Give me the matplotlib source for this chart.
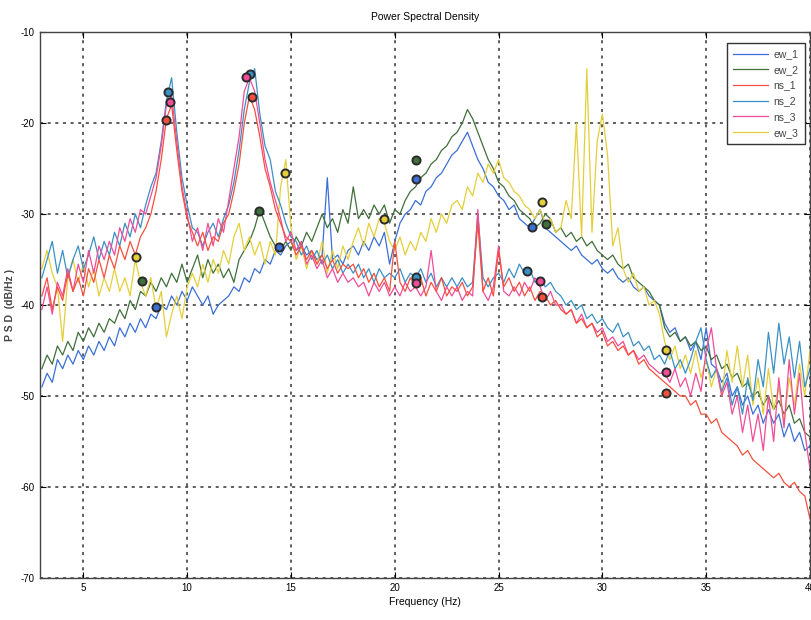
import numpy as np
import matplotlib
matplotlib.use("Agg")
import matplotlib.pyplot as plt

plt.rcParams['font.family'] = ['Liberation Sans Narrow', 'Liberation Sans', 'DejaVu Sans']
plt.rcParams['axes.unicode_minus'] = False

# frequency axis, 0.25 Hz steps from 3 to 40 Hz
freq = np.arange(3.0, 40.001, 0.25)

ew_1 = [
    -49, -47.5, -48.5, -46, -47, -45.5, -46.5, -45, -46, -44.5, -45.5, -44, -45, -43.5, -44.5, -42.5, -43.5, -42, -43, -41.5,
    -42.5, -41, -41.5, -40, -40.5, -39, -40, -38.5, -39.5, -38, -39, -40, -39, -41, -40, -39.5, -39, -38, -38.5, -37,
    -37.5, -36, -36.5, -35, -35.5, -34, -34.5, -33.5, -33, -34, -33.5, -34.5, -34, -35, -34.5, -26, -35, -34.5, -35.5, -34,
    -33.5, -34.5, -33, -34, -32.5, -33.5, -32, -35.5, -33, -31, -30, -29.5, -28.5, -29, -27.5, -27, -26, -25.5, -24.5, -23.5,
    -23, -22, -21, -22.5, -24, -25, -26.5, -27, -28, -28.5, -29.5, -29, -30.5, -31, -31.5, -30.5, -29.5, -31.5, -32, -32.5,
    -33, -33.5, -34, -33.5, -34.5, -35, -35.5, -35, -36, -36.5, -36, -37, -37.5, -37, -38, -38.5, -38, -39, -39.5, -40,
    -42, -43, -42.5, -44, -43.5, -45, -44, -46, -42.5, -46.5, -47, -48.5, -47.5, -50, -49, -51, -50, -52, -51, -53,
    -51.5, -53, -52, -54.5, -53, -55, -54, -56, -55.5,
]

ew_2 = [
    -47, -45.5, -46.5, -44.5, -45.5, -44, -45, -43, -44, -42.5, -43.5, -42, -43, -41.5, -42, -40.5, -41.5, -39.5, -40.5, -38.5,
    -39, -37.5, -38.5, -37, -38, -36.5, -37.5, -35.5, -37.5, -36, -34.5, -37, -35, -36.5, -35.5, -37, -36, -37.5, -35, -34,
    -33, -31.5, -29.5, -31, -32.5, -33.5, -34, -33, -34, -32.5, -33.5, -32, -33, -31.5, -30, -31.5, -30.5, -32, -29.5, -31,
    -27, -30.5, -29.5, -30.5, -29, -30, -29, -31, -29.5, -30, -28.5, -27.5, -27, -26, -25.5, -24.5, -24, -23, -22.5, -21.5,
    -21, -20, -18.5, -19.5, -21, -22.5, -24, -25, -26.5, -27, -28, -28.5, -29.5, -30, -30.5, -31.5, -31, -30, -30.5, -32,
    -31.5, -32.5, -32, -33, -32.5, -33.5, -33, -34, -34.5, -35, -34.5, -35.5, -36, -35.5, -37, -37.5, -38, -38.5, -39.5, -40,
    -42.5, -43.5, -43, -44, -43.5, -44.5, -44, -45, -44.5, -46, -45.5, -47, -46.5, -48, -47.5, -49, -48.5, -50, -49.5, -51,
    -50, -51.5, -50.5, -52, -51, -53, -52.5, -54, -54.5,
]

ns_1 = [
    -39, -37, -40.5, -38, -39.5, -36.5, -38.5, -37, -39, -36, -37.5, -35, -37, -34.5, -36, -33.5, -35, -33, -34.5, -32.5,
    -31.5, -30, -27.5, -24, -19.5, -18, -23, -27.5, -30.5, -32, -33.5, -32, -34, -32.5, -33, -31, -30, -27.5, -24.5, -20,
    -17, -18.5, -21.5, -25, -27, -29.5, -31, -32.5, -33, -34.5, -33.5, -35, -34, -35.5, -34.5, -36, -35, -36.5, -35.5, -36,
    -35.5, -37, -36, -37.5, -36.5, -38, -37, -38.5, -33, -37.5, -38.5, -37, -38, -37, -39, -37.5, -38.5, -37, -39, -38,
    -38.5, -37.5, -39, -38, -31, -38.5, -37, -39, -34, -38, -37, -38.5, -37.5, -39, -38, -39.5, -38.5, -39, -40, -39.5,
    -40.5, -41, -40.5, -42, -41.5, -42.5, -42, -43.5, -43, -44.5, -44, -45, -44.5, -45.5, -45, -46.5, -46, -47, -47.5, -48,
    -48.5, -49, -49.5, -50, -50, -51, -50.5, -52, -52, -53, -52.5, -54, -54.5, -55, -55.5, -56.5, -56, -57, -57.5, -58,
    -58.5, -59, -58.5, -59.5, -60, -59.5, -60.5, -61, -63.5,
]

ns_2 = [
    -37, -35, -33, -36.5, -34, -37, -35, -33.5, -36, -34.5, -32.5, -35, -33, -34.5, -32, -33.5, -31, -32.5, -30, -31.5,
    -29, -27, -25.5, -22, -17.5, -15, -21, -26, -29, -31.5, -32, -33.5, -32, -31, -32.5, -30.5, -29, -26.5, -23, -18.5,
    -15.5, -14, -19, -22.5, -24, -27.5, -29, -31, -32.5, -33, -34.5, -33.5, -35, -34, -35.5, -34.5, -36, -35, -36.5, -35.5,
    -36.5, -35.5, -37, -36, -37.5, -36, -37, -36.5, -37, -36, -37.5, -36.5, -37, -36, -37.5, -36.5, -38, -37, -38, -37,
    -38, -37, -38, -37.5, -30, -37, -38, -37, -36.5, -37.5, -36, -37, -35.5, -36.5, -36, -37.5, -37, -38, -37.5, -38.5,
    -39, -40, -39.5, -40.5, -40, -41.5, -41, -42, -41.5, -42.5, -43, -42, -43.5, -43, -44.5, -44, -45, -44.5, -46, -45.5,
    -46.5, -45, -47, -46, -47.5, -46, -44, -42.5, -46, -48, -47, -49.5, -48, -51, -49, -52, -48, -50.5, -46, -49,
    -43, -47.5, -42, -46.5, -43.5, -48, -44, -49, -47,
]

ns_3 = [
    -40.5, -38, -41, -37.5, -39, -36, -38.5, -35.5, -37.5, -34, -36.5, -33.5, -35, -33, -34.5, -31.5, -33, -30.5, -32, -29.5,
    -30, -28, -26, -22.5, -18, -17, -22, -27, -30, -33, -31.5, -34, -31, -33.5, -30.5, -32, -28.5, -25, -21.5, -16.5,
    -15, -16.5, -20, -24, -26.5, -28.5, -30.5, -33, -32, -34, -33, -35.5, -34.5, -36, -35, -37, -36, -37.5, -36.5, -37.5,
    -37, -38, -37.5, -39, -37.5, -38.5, -37.5, -39, -38, -39, -37.5, -38.5, -38, -39, -38, -34, -38.5, -39.5, -38, -39,
    -38, -39.5, -38.5, -39, -29.5, -38.5, -39.5, -38, -33.5, -38.5, -39, -38, -39, -37.5, -38.5, -37, -38, -39.5, -38.5, -40,
    -40, -41, -40.5, -42, -41, -42.5, -42, -43, -42.5, -44, -43.5, -44.5, -44, -45.5, -45, -46, -45.5, -46.5, -47, -47.5,
    -47.5, -48.5, -47, -49, -48, -50, -47.5, -49.5, -45, -42.5, -47, -50, -48.5, -52, -50, -54, -51, -55, -52, -56,
    -50, -55, -48, -53.5, -46, -52, -47.5, -54, -58,
]

ew_3 = [
    -36, -34, -36.5, -38, -44, -37, -35, -37.5, -35.5, -38, -36, -39, -37, -38.5, -36, -38.5, -37, -39, -35, -37.5,
    -39, -37, -40.5, -38.5, -43.5, -41, -39, -41.5, -38, -36.5, -38, -35.5, -37.5, -35, -36.5, -34, -35.5, -32.5, -31, -34,
    -32.5, -34.5, -33, -35.5, -33, -34.5, -27, -24, -31.5, -35, -33.5, -36, -34, -35.5, -33, -36.5, -34, -36, -33.5, -35,
    -33, -31.5, -33.5, -31, -32.5, -30.5, -31, -33, -34, -32.5, -34.5, -33, -34, -32, -33, -30.5, -32, -30, -31, -29,
    -28.5, -29.5, -27, -28, -25.5, -26.5, -24.5, -25.5, -24, -26, -26.5, -27.5, -28, -29, -29.5, -30.5, -29.5, -31, -30.5, -32,
    -31.5, -28.5, -30.5, -20, -32.5, -14, -32, -22, -19, -23.5, -33.5, -31.5, -36, -37.5, -36.5, -38.5, -38, -40, -39.5, -41,
    -44, -46, -44.5, -47, -45.5, -47.5, -45, -48, -46, -49, -47, -50, -45, -48.5, -44.5, -49, -45.5, -51, -48, -52,
    -47, -51.5, -49, -53, -48, -51, -46.5, -50, -45,
]

# peak markers picked on each curve
mk_freq = {
    'ew_1': [8.5, 14.4, 21.0, 26.6],
    'ew_2': [7.8, 13.45, 21.0, 27.3],
    'ns_1': [9.0, 13.1, 27.1, 33.05],
    'ns_2': [9.1, 13.05, 21.0, 26.35],
    'ns_3': [9.15, 12.85, 21.0, 27.0, 33.05],
    'ew_3': [7.55, 14.7, 19.5, 27.1, 33.05],
}
mk_psd = {
    'ew_1': [-40.2, -33.6, -26.1, -31.4],
    'ew_2': [-37.4, -29.7, -24.0, -31.1],
    'ns_1': [-19.7, -17.1, -39.1, -49.7],
    'ns_2': [-16.6, -14.6, -36.9, -36.3],
    'ns_3': [-17.7, -14.9, -37.6, -37.4, -47.4],
    'ew_3': [-34.7, -25.5, -30.5, -28.7, -44.9],
}

series = {'ew_1': ew_1, 'ew_2': ew_2, 'ns_1': ns_1, 'ns_2': ns_2, 'ns_3': ns_3, 'ew_3': ew_3}
colors = {
    'ew_1': '#3b6fd6',
    'ew_2': '#3f6f3a',
    'ns_1': '#f5503f',
    'ns_2': '#3a90c4',
    'ns_3': '#f04c98',
    'ew_3': '#e4cf3a',
}

fig = plt.figure(figsize=(8.12, 6.2), dpi=100)
ax = fig.add_axes([0.049, 0.068, 0.9485, 0.88])

lines = {}
for name in ['ew_1', 'ew_2', 'ew_3', 'ns_2', 'ns_3', 'ns_1']:
    lines[name], = ax.plot(freq, series[name], color=colors[name], lw=0.9, label=name)

for name in ['ew_1', 'ew_2', 'ew_3', 'ns_2', 'ns_3', 'ns_1']:
    ax.scatter(mk_freq[name], mk_psd[name], s=34, facecolor=colors[name],
               edgecolor='#2a2a2a', linewidth=1.4, zorder=5)

ax.set_xlim(2.9, 40)
ax.set_ylim(-70, -10)
ax.set_xticks([5, 10, 15, 20, 25, 30, 35, 40])
ax.set_yticks([-70, -60, -50, -40, -30, -20, -10])
ax.tick_params(direction='in', length=4, labelsize=7, top=True, right=True)
ax.grid(True, linestyle=(0, (2, 3)), color='#333333', linewidth=1.1)
for sp in ax.spines.values():
    sp.set_color('#444444')
    sp.set_linewidth(1.0)

ax.set_title('Power Spectral Density', fontsize=7.5, pad=9)
ax.set_xlabel('Frequency (Hz)', fontsize=7.5, labelpad=3)
ax.set_ylabel('P S D  (dB/Hz )', fontsize=7.5, labelpad=4, fontweight='bold', color='#444444')

order = ['ew_1', 'ew_2', 'ns_1', 'ns_2', 'ns_3', 'ew_3']
leg = ax.legend([lines[n] for n in order], order, loc='upper right', fontsize=7.5,
                handlelength=3.4, handletextpad=0.5, fancybox=False, edgecolor='#333333',
                framealpha=1, borderpad=0.6, labelspacing=0.55, bbox_to_anchor=(1.0, 0.99))
leg.get_frame().set_linewidth(1.0)
for t in leg.get_texts():
    t.set_color('#444444')

fig.savefig('out.png', dpi=100)
